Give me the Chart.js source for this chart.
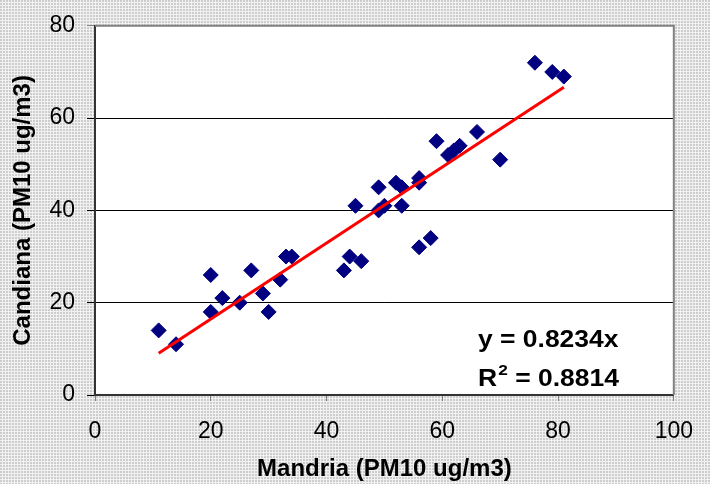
<!DOCTYPE html>
<html>
<head>
<meta charset="utf-8">
<script src="https://cdn.jsdelivr.net/npm/chart.js@4.4.1/dist/chart.umd.min.js"></script>
<style>
  body { margin: 0; overflow: hidden; background: #fff; }
  canvas { display: block; }
</style>
</head>
<body>
<canvas id="chart" width="710" height="484"></canvas>
<script>
// Mandria vs Candiana daily PM10
const mandria = [11, 14, 20, 20, 22, 25, 27, 29, 30, 32, 33, 34, 43, 44, 45, 46, 49, 49, 50, 52, 53, 53, 56, 58, 56, 56, 59, 61, 62, 63, 66, 70, 76, 79, 81];
const candiana = [14, 11, 26, 18, 21, 20, 27, 22, 18, 25, 30, 30, 27, 30, 41, 29, 45, 40, 41, 46, 45, 41, 32, 34, 47, 46, 55, 52, 53, 54, 57, 51, 72, 70, 69];
const xTicks = [0, 20, 40, 60, 80, 100];
const yTicks = [0, 20, 40, 60, 80];
const slope = 0.8234;
const rSquared = 0.8814;

const FONT = "'Liberation Sans', Arial, sans-serif";

const points = mandria.map((x, i) => ({ x: x, y: candiana[i] }));
const xMin = Math.min(...mandria);
const xMax = Math.max(...mandria);
const trend = [
  { x: xMin, y: slope * xMin },
  { x: xMax, y: slope * xMax },
];

// dotted grey backdrop like the original sheet
function makePattern(ctx) {
  const p = document.createElement("canvas");
  p.width = 3;
  p.height = 3;
  const pc = p.getContext("2d");
  pc.fillStyle = "#f1f1f1";
  pc.fillRect(0, 0, 3, 3);
  pc.fillStyle = "#cdcdcd";
  pc.fillRect(0, 0, 2, 2);
  return ctx.createPattern(p, "repeat");
}

const backdrop = {
  id: "backdrop",
  beforeDraw(chart) {
    const { ctx, chartArea: a } = chart;
    ctx.save();
    ctx.fillStyle = makePattern(ctx);
    ctx.fillRect(0, 0, chart.width, chart.height);
    ctx.fillStyle = "#fff";
    ctx.fillRect(a.left, a.top, a.right - a.left, a.bottom - a.top);
    ctx.restore();
  },
  beforeDatasetsDraw(chart) {
    const { ctx, chartArea: a } = chart;
    ctx.save();
    ctx.strokeStyle = "#808080";
    ctx.lineWidth = 2;
    ctx.beginPath();
    ctx.moveTo(a.left, a.top);
    ctx.lineTo(a.right, a.top);
    ctx.lineTo(a.right, a.bottom);
    ctx.stroke();
    ctx.restore();
  },
};

const equation = {
  id: "equation",
  afterDraw(chart) {
    const { ctx } = chart;
    ctx.save();
    ctx.fillStyle = "#000";
    ctx.textBaseline = "alphabetic";
    ctx.translate(478, 0);
    ctx.scale(1.15, 1);
    ctx.font = "bold 23px " + FONT;
    ctx.fillText("y = " + slope + "x", 0, 347);
    ctx.fillText("R", 0, 386);
    const rw = ctx.measureText("R").width;
    ctx.font = "bold 15px " + FONT;
    ctx.fillText("2", rw + 1, 375);
    const sw = ctx.measureText("2").width;
    ctx.font = "bold 23px " + FONT;
    ctx.fillText(" = " + rSquared, rw + sw + 1, 386);
    ctx.restore();
  },
};

new Chart(document.getElementById("chart"), {
  type: "scatter",
  data: {
    datasets: [
      {
        label: "Candiana vs Mandria",
        data: points,
        pointStyle: "rectRot",
        pointRadius: 7.5,
        pointHoverRadius: 7.5,
        backgroundColor: "#000080",
        borderColor: "#000080",
        borderWidth: 1,
        order: 2,
      },
      {
        type: "line",
        label: "Trend",
        data: trend,
        borderColor: "#ff0000",
        borderWidth: 3,
        pointRadius: 0,
        fill: false,
        order: 1,
      },
    ],
  },
  options: {
    responsive: false,
    animation: false,
    layout: { padding: { top: 23, right: 33, left: 0, bottom: 0 } },
    plugins: {
      legend: { display: false },
      tooltip: { enabled: false },
    },
    scales: {
      x: {
        type: "linear",
        min: 0,
        max: 100,
        afterBuildTicks: (s) => { s.ticks = xTicks.map((v) => ({ value: v })); },
        afterFit: (s) => { s.height = 89; },
        grid: { drawOnChartArea: false, tickLength: 6, color: "#808080" },
        border: { color: "#333", width: 2 },
        ticks: { color: "#000", padding: 17, font: { family: FONT, size: 23 } },
        title: {
          display: true,
          text: "Mandria (PM10 ug/m3)",
          color: "#000",
          padding: { top: 0, bottom: 0 },
          font: { family: FONT, size: 24, weight: "bold" },
        },
      },
      y: {
        min: 0,
        max: 80,
        afterBuildTicks: (s) => { s.ticks = yTicks.map((v) => ({ value: v })); },
        afterFit: (s) => { s.width = 95; },
        grid: {
          tickLength: 8,
          color: (c) => (c.tick && c.tick.value === 80 ? "#808080" : "#000"),
          lineWidth: 1,
        },
        border: { color: "#333", width: 2 },
        ticks: { color: "#000", padding: 12, font: { family: FONT, size: 23 } },
        title: {
          display: true,
          text: "Candiana (PM10 ug/m3)",
          color: "#000",
          padding: { top: 9, bottom: 0 },
          font: { family: FONT, size: 24, weight: "bold" },
        },
      },
    },
  },
  plugins: [backdrop, equation],
});
</script>
</body>
</html>
